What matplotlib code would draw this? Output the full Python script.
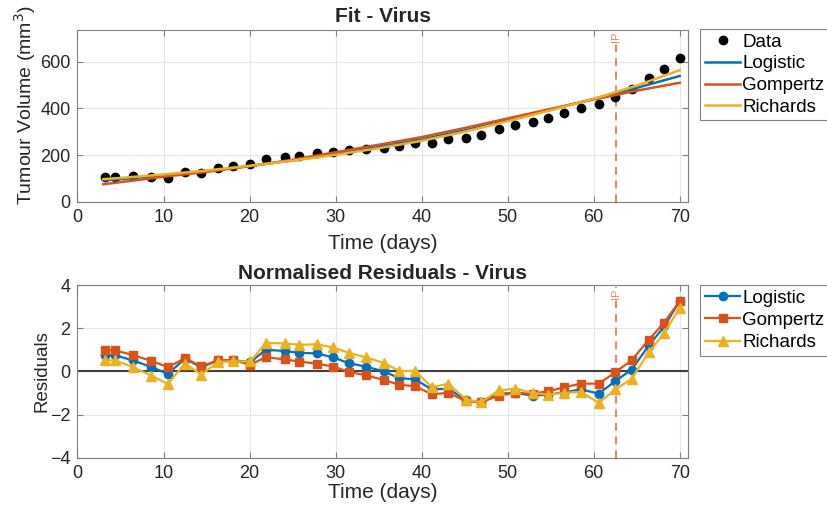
import numpy as np
import matplotlib.pyplot as plt

plt.rcParams['font.family'] = ['Liberation Sans', 'DejaVu Sans']

# measurement days
days = [3.2, 4.4, 6.4, 8.6, 10.5, 12.5, 14.4, 16.3, 18.1, 20.1, 21.9, 24.1,
        25.8, 27.8, 29.7, 31.6, 33.5, 35.6, 37.4, 39.2, 41.2, 43.1, 45.2, 46.9,
        49.0, 50.9, 52.9, 54.7, 56.6, 58.5, 60.6, 62.5, 64.4, 66.4, 68.2, 70.0]

# tumour volume [mm^3]
volume = [105, 107, 111, 107, 103, 129, 124, 143, 153, 160, 182, 190,
          197, 207, 214, 222, 226, 231, 239, 250, 253, 267, 272, 286,
          310, 329, 343, 361, 381, 400, 417, 450, 483, 529, 569, 614]

# fitted curves (read at these days)
fit_days = [3, 5, 10, 15, 20, 25, 30, 35, 40, 45, 50, 55, 60, 65, 70]
fit_logistic = [92, 97, 113, 131, 153, 177, 204, 234, 267, 306, 349, 394, 441, 488, 539]
fit_gompertz = [75, 84, 107, 128, 152, 180, 212, 244, 277, 316, 357, 398, 438, 476, 510]
fit_richards = [97, 102, 117, 134, 154, 176, 201, 229, 261, 300, 345, 392, 441, 498, 564]

# normalised residuals
res_logistic = [0.74, 0.74, 0.51, 0.20, -0.12, 0.59, 0.18, 0.51, 0.51, 0.43, 1.00, 0.94,
                0.86, 0.83, 0.65, 0.37, 0.22, 0.00, -0.32, -0.36, -0.84, -0.80, -1.35, -1.43,
                -1.04, -1.00, -1.12, -1.08, -0.97, -0.84, -1.03, -0.46, 0.08, 1.19, 2.08, 3.26]
res_gompertz = [1.00, 0.97, 0.76, 0.48, 0.20, 0.60, 0.23, 0.51, 0.51, 0.31, 0.66, 0.55,
                0.45, 0.36, 0.22, -0.03, -0.18, -0.40, -0.62, -0.69, -1.06, -1.00, -1.38, -1.43,
                -1.12, -1.00, -1.03, -0.92, -0.74, -0.57, -0.57, -0.05, 0.51, 1.46, 2.26, 3.26]
res_richards = [0.51, 0.51, 0.20, -0.20, -0.58, 0.36, -0.15, 0.43, 0.46, 0.46, 1.32, 1.29,
                1.23, 1.25, 1.11, 0.85, 0.65, 0.39, 0.02, 0.01, -0.73, -0.58, -1.31, -1.43,
                -0.88, -0.80, -1.00, -1.08, -1.00, -0.95, -1.46, -0.84, -0.35, 0.88, 1.77, 2.95]

ip_day = 62.6

c_blue = '#0072BD'
c_red = '#D95319'
c_yel = '#EDB120'
c_ip = '#E4875E'
c_axis = '#808080'
c_text = '#262626'


def style_axes(ax):
    for s in ax.spines.values():
        s.set_color(c_axis)
        s.set_linewidth(0.8)
    ax.tick_params(direction='in', length=4, width=0.8, color=c_axis,
                   labelsize=13, labelcolor=c_text, top=True, right=True, pad=5)
    ax.grid(True, color='#e6e6e6', linewidth=0.8)
    ax.set_axisbelow(True)
    ax.set_xlim([0, 71])
    ax.set_xticks(np.arange(0, 71, 10))


def ip_line(ax, ytop):
    ax.axvline(ip_day, color=c_ip, linestyle=(0, (4, 3)), linewidth=1.4, zorder=1)
    ax.text(ip_day, ytop, 'IP', rotation=90, color=c_ip, fontsize=8,
            ha='center', va='top', zorder=2,
            bbox=dict(facecolor='white', edgecolor='none', pad=0.5))


fig = plt.figure(figsize=(8.27, 5.15), dpi=100)

ax1 = fig.add_axes([0.0937, 0.6083, 0.7386, 0.3334])
style_axes(ax1)
ax1.set_ylim([0, 736])
ax1.set_yticks([0, 200, 400, 600])
ip_line(ax1, 728)
ax1.plot(days, volume, 'o', color='black', markersize=6, label='Data', zorder=3)
ax1.plot(fit_days, fit_logistic, color=c_blue, linewidth=1.8, label='Logistic', zorder=3)
ax1.plot(fit_days, fit_gompertz, color=c_red, linewidth=1.8, label='Gompertz', zorder=3)
ax1.plot(fit_days, fit_richards, color=c_yel, linewidth=1.8, label='Richards', zorder=3)
ax1.set_title('Fit - Virus', fontsize=15, fontweight='bold', color=c_text, pad=6)
ax1.set_xlabel('Time (days)', fontsize=15, color=c_text, labelpad=6)
ax1.set_ylabel('Tumour Volume (mm$^3$)', fontsize=14, color=c_text, labelpad=1.5)
ax1.yaxis.label.set_y(0.56)

ax2 = fig.add_axes([0.0937, 0.1113, 0.7386, 0.3353])
style_axes(ax2)
ax2.set_ylim([-4, 4])
ax2.set_yticks([-4, -2, 0, 2, 4])
ax2.axhline(0, color='#404040', linewidth=1.5, zorder=2)
ip_line(ax2, 3.85)
ax2.plot(days, res_logistic, '-o', color=c_blue, linewidth=1.6, markersize=6,
         label='Logistic', zorder=3)
ax2.plot(days, res_gompertz, '-s', color=c_red, linewidth=1.6, markersize=5.5,
         label='Gompertz', zorder=3)
ax2.plot(days, res_richards, '-^', color=c_yel, linewidth=1.6, markersize=7,
         label='Richards', zorder=3)
ax2.set_title('Normalised Residuals - Virus', fontsize=15, fontweight='bold',
              color=c_text, pad=4)
ax2.set_xlabel('Time (days)', fontsize=15, color=c_text, labelpad=1)
ax2.set_ylabel('Residuals', fontsize=13.5, color=c_text, labelpad=-0.5)

for ax, ytop, sp in [(ax1, 1 - 29 / 515, 0.24), (ax2, 1 - 285 / 515, 0.27)]:
    leg = ax.legend(loc='upper left', bbox_to_anchor=(700 / 827, ytop),
                    bbox_transform=fig.transFigure, borderaxespad=0,
                    fontsize=13.5, handlelength=1.9, handletextpad=0.1,
                    labelspacing=sp, borderpad=0.25, fancybox=False,
                    framealpha=1, edgecolor=c_axis)
    leg.get_frame().set_linewidth(0.8)
    for t in leg.get_texts():
        t.set_color('black')

fig.savefig('out.png', dpi=100)
